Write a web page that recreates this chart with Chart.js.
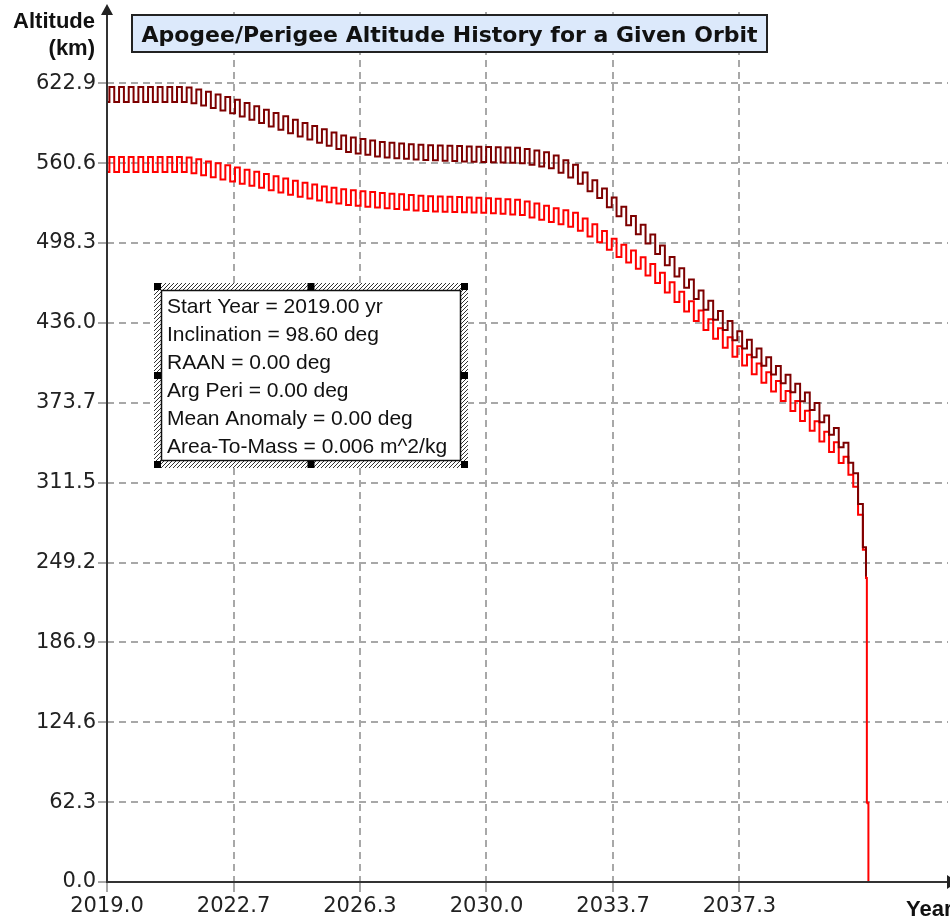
<!DOCTYPE html>
<html>
<head>
<meta charset="utf-8">
<title>Apogee/Perigee Altitude History</title>
<script src="https://cdn.jsdelivr.net/npm/chart.js@4.4.1/dist/chart.umd.min.js"></script>
<style>
  html, body { margin: 0; padding: 0; background: #fff; }
  canvas { display: block; }
</style>
</head>
<body>
<canvas id="chart" width="950" height="921"></canvas>
<script>
// turning points of the oscillation, in decimal years
const years = [
  2019.00, 2019.14, 2019.28, 2019.42, 2019.56, 2019.70, 2019.84, 2019.98, 2020.12, 2020.26,
  2020.40, 2020.54, 2020.68, 2020.82, 2020.96, 2021.10, 2021.24, 2021.38, 2021.52, 2021.66,
  2021.80, 2021.94, 2022.08, 2022.22, 2022.36, 2022.50, 2022.64, 2022.78, 2022.92, 2023.06,
  2023.20, 2023.34, 2023.48, 2023.62, 2023.76, 2023.90, 2024.04, 2024.18, 2024.32, 2024.46,
  2024.60, 2024.74, 2024.88, 2025.02, 2025.16, 2025.30, 2025.44, 2025.58, 2025.72, 2025.86,
  2026.00, 2026.14, 2026.28, 2026.42, 2026.56, 2026.70, 2026.84, 2026.98, 2027.12, 2027.26,
  2027.40, 2027.54, 2027.68, 2027.82, 2027.96, 2028.10, 2028.24, 2028.38, 2028.52, 2028.66,
  2028.80, 2028.94, 2029.08, 2029.22, 2029.36, 2029.50, 2029.64, 2029.78, 2029.92, 2030.06,
  2030.20, 2030.34, 2030.48, 2030.62, 2030.76, 2030.90, 2031.04, 2031.18, 2031.32, 2031.46,
  2031.60, 2031.74, 2031.88, 2032.02, 2032.16, 2032.30, 2032.44, 2032.58, 2032.72, 2032.86,
  2033.00, 2033.14, 2033.28, 2033.42, 2033.56, 2033.70, 2033.84, 2033.98, 2034.12, 2034.26,
  2034.40, 2034.54, 2034.68, 2034.82, 2034.96, 2035.10, 2035.24, 2035.38, 2035.52, 2035.66,
  2035.80, 2035.94, 2036.08, 2036.22, 2036.36, 2036.50, 2036.64, 2036.78, 2036.92, 2037.06,
  2037.20, 2037.34, 2037.48, 2037.62, 2037.76, 2037.90, 2038.04, 2038.18, 2038.32, 2038.46,
  2038.60, 2038.74, 2038.88, 2039.02, 2039.16, 2039.30, 2039.44, 2039.58, 2039.72, 2039.86,
  2040.00, 2040.14, 2040.28, 2040.42, 2040.56, 2040.70, 2040.84, 2040.98
];

// apogee altitude (km) at each turning point
const apogee = [
  608.3, 620.0, 608.3, 620.0, 608.3, 620.0, 608.3, 620.0, 608.3, 620.0,
  608.3, 620.0, 608.3, 620.0, 608.3, 620.0, 608.3, 619.6, 607.3, 618.1,
  605.6, 616.3, 603.6, 614.2, 601.6, 612.3, 599.5, 610.0, 597.0, 607.5,
  594.5, 604.9, 592.0, 602.3, 589.3, 599.7, 586.7, 597.2, 584.0, 594.5,
  581.5, 592.0, 579.1, 589.5, 576.5, 587.0, 574.1, 584.5, 571.7, 582.2,
  569.4, 580.6, 568.2, 579.4, 567.1, 578.2, 565.9, 577.1, 565.1, 576.6,
  564.5, 576.0, 564.0, 575.4, 563.4, 574.9, 563.0, 574.6, 562.8, 574.4,
  562.5, 574.1, 562.2, 573.9, 562.0, 573.7, 561.8, 573.4, 561.5, 573.2,
  561.3, 573.0, 561.1, 572.8, 560.9, 572.6, 560.5, 571.6, 559.3, 570.4,
  558.1, 569.1, 556.7, 566.5, 553.1, 562.9, 549.5, 559.4, 544.6, 553.3,
  538.7, 547.3, 533.4, 540.8, 526.3, 533.8, 519.3, 526.6, 512.2, 519.5,
  505.1, 512.5, 498.0, 504.9, 489.7, 496.3, 481.0, 487.4, 472.2, 478.7,
  463.4, 469.9, 454.7, 461.3, 446.3, 453.3, 438.4, 445.3, 430.5, 437.5,
  422.6, 429.6, 416.1, 422.9, 409.3, 416.1, 402.6, 409.3, 395.7, 402.5,
  389.0, 395.6, 382.0, 388.6, 375.0, 381.8, 368.2, 373.6, 358.6, 363.9,
  348.9, 354.0, 339.1, 342.6, 327.0, 318.7, 294.8, 261.0
];

// perigee altitude (km) at each turning point
const perigee = [
  553.8, 565.5, 553.8, 565.5, 553.8, 565.5, 553.8, 565.5, 553.8, 565.5,
  553.8, 565.5, 553.8, 565.5, 553.8, 565.5, 553.8, 565.1, 552.7, 563.6,
  551.1, 562.0, 549.6, 560.5, 547.9, 558.9, 546.3, 557.3, 544.6, 555.5,
  542.9, 553.9, 541.4, 552.1, 539.5, 550.4, 537.8, 548.6, 536.0, 546.9,
  534.5, 545.4, 533.0, 543.9, 531.5, 542.5, 530.2, 541.4, 529.1, 540.3,
  528.0, 539.5, 527.3, 538.8, 526.7, 538.1, 526.0, 537.4, 525.4, 536.8,
  524.8, 536.3, 524.2, 535.7, 523.7, 535.1, 523.3, 534.9, 522.9, 534.6,
  522.7, 534.4, 522.5, 534.2, 522.3, 533.9, 522.1, 533.7, 521.9, 533.3,
  521.5, 532.9, 521.1, 532.5, 520.6, 532.1, 520.1, 530.8, 518.3, 529.1,
  516.5, 527.3, 514.8, 525.5, 512.9, 523.8, 511.1, 522.0, 507.9, 517.4,
  503.5, 512.9, 498.9, 507.8, 493.0, 501.7, 487.5, 497.0, 483.1, 492.4,
  478.3, 487.3, 473.0, 482.0, 467.1, 475.2, 459.8, 467.8, 452.4, 460.4,
  445.0, 452.9, 437.6, 445.7, 430.5, 438.8, 423.7, 431.8, 416.7, 424.9,
  409.7, 417.9, 402.8, 411.1, 396.0, 404.4, 389.3, 397.6, 382.6, 390.7,
  375.2, 383.0, 367.4, 375.2, 359.6, 367.6, 351.9, 359.4, 343.6, 351.1,
  335.4, 342.9, 326.8, 331.7, 317.6, 308.3, 286.5, 259.1
];

// re-entry at the end
const apogeeTailYears = [2041.02];
const apogeeTail = [239.0];
const perigeeTailYears = [2041.02, 2041.03, 2041.07, 2041.07];
const perigeeTail = [237.0, 62.0, 61.5, 0.0];

const xTicks = [2019.0, 2022.667, 2026.333, 2030.0, 2033.667, 2037.333];
const xTickLabels = ["2019.0", "2022.7", "2026.3", "2030.0", "2033.7", "2037.3"];
const yTicks = [0, 62.29, 124.58, 186.87, 249.16, 311.45, 373.74, 436.03, 498.32, 560.61, 622.9];
const yTickLabels = ["0.0", "62.3", "124.6", "186.9", "249.2", "311.5", "373.7", "436.0", "498.3", "560.6", "622.9"];

const chartTitle = "Apogee/Perigee Altitude History for a Given Orbit";
const infoLines = [
  "Start Year = 2019.00 yr",
  "Inclination = 98.60 deg",
  "RAAN = 0.00 deg",
  "Arg Peri = 0.00 deg",
  "Mean Anomaly = 0.00 deg",
  "Area-To-Mass = 0.006 m^2/kg"
];

function toPoints(xs, ys) {
  return xs.map((x, i) => ({ x: x, y: ys[i] }));
}

const apogeePts = toPoints(years, apogee).concat(toPoints(apogeeTailYears, apogeeTail));
const perigeePts = toPoints(years, perigee).concat(toPoints(perigeeTailYears, perigeeTail));

const decor = {
  id: "decor",
  beforeDraw(chart) {
    const c = chart.ctx;
    c.save();
    c.fillStyle = "#fff";
    c.fillRect(0, 0, chart.width, chart.height);
    c.restore();
  },
  afterDatasetsDraw(chart) {
    const c = chart.ctx;
    const a = chart.chartArea;
    c.save();
    c.strokeStyle = "#333";
    c.lineWidth = 2;
    c.beginPath();
    c.moveTo(a.left, a.bottom);
    c.lineTo(a.left, 9);
    c.moveTo(a.left - 1, a.bottom);
    c.lineTo(a.right, a.bottom);
    c.stroke();
    c.fillStyle = "#222";
    // arrow heads
    c.beginPath();
    c.moveTo(a.left, 4);
    c.lineTo(a.left - 6, 15);
    c.lineTo(a.left + 6, 15);
    c.closePath();
    c.fill();
    c.beginPath();
    c.moveTo(a.right - 1, a.bottom - 7);
    c.lineTo(a.right + 9, a.bottom);
    c.lineTo(a.right - 1, a.bottom + 7);
    c.closePath();
    c.fill();
    c.restore();
  },
  afterDraw(chart) {
    const c = chart.ctx;
    c.save();

    // title box
    c.fillStyle = "#dce9fb";
    c.fillRect(132, 15, 635, 37);
    c.strokeStyle = "#222";
    c.lineWidth = 2;
    c.strokeRect(132, 15, 635, 37);
    c.font = 'bold 22px "DejaVu Sans"';
    c.fillStyle = "#111";
    c.textAlign = "center";
    c.textBaseline = "alphabetic";
    c.fillText(chartTitle, 449.5, 42);

    // axis names
    c.font = 'bold 22px "Liberation Sans"';
    c.textAlign = "right";
    c.fillText("Altitude", 95, 28);
    c.fillText("(km)", 95, 55);
    c.textAlign = "left";
    c.fillText("Year", 906, 916);

    // info box
    const bx = 154, by = 283, bw = 314, bh = 185, band = 7;
    c.fillStyle = "#fff";
    c.fillRect(bx, by, bw, bh);
    c.save();
    c.beginPath();
    c.rect(bx, by, bw, bh);
    c.rect(bx + band, by + band, bw - 2 * band, bh - 2 * band);
    c.clip("evenodd");
    c.strokeStyle = "#333";
    c.lineWidth = 1;
    c.beginPath();
    for (let x = bx - bh; x < bx + bw + 10; x += 4) {
      c.moveTo(x, by + bh);
      c.lineTo(x + bh, by);
    }
    c.stroke();
    c.restore();
    c.strokeStyle = "#111";
    c.lineWidth = 1.5;
    c.strokeRect(bx + band + 0.5, by + band + 0.5, bw - 2 * band - 1, bh - 2 * band - 1);
    c.fillStyle = "#000";
    const hx = [bx, bx + bw / 2 - 3.5, bx + bw - band];
    const hy = [by, by + bh / 2 - 3.5, by + bh - band];
    hx.forEach((x, i) => {
      hy.forEach((y, j) => {
        if (i === 1 && j === 1) return;
        c.fillRect(x, y, band, band);
      });
    });
    c.font = '21px "Liberation Sans"';
    c.fillStyle = "#111";
    c.textAlign = "left";
    infoLines.forEach((line, i) => {
      c.fillText(line, 167, 313 + i * 28);
    });

    c.restore();
  }
};

const ctx = document.getElementById("chart").getContext("2d");

const chart = new Chart(ctx, {
  type: "line",
  data: {
    datasets: [
      {
        label: "Apogee",
        data: apogeePts,
        borderColor: "#7d0000",
        borderWidth: 2,
        borderJoinStyle: "miter",
        stepped: "middle",
        pointRadius: 0,
        fill: false,
      },
      {
        label: "Perigee",
        data: perigeePts,
        borderColor: "#ff0000",
        borderWidth: 2,
        borderJoinStyle: "miter",
        stepped: "middle",
        pointRadius: 0,
        fill: false,
      },
    ],
  },
  options: {
    responsive: false,
    animation: false,
    devicePixelRatio: 1,
    layout: { padding: { top: 12, right: 2, left: 0, bottom: 0 } },
    plugins: {
      legend: { display: false },
      tooltip: { enabled: false },
      title: { display: false },
    },
    scales: {
      x: {
        type: "linear",
        min: 2019,
        max: 2043.377,
        afterBuildTicks: (scale) => {
          scale.ticks = xTicks.map((v) => ({ value: v }));
        },
        afterFit: (scale) => {
          scale.height = 39;
        },
        ticks: {
          autoSkip: false,
          maxRotation: 0,
          padding: 2,
          color: "#222",
          font: { family: "DejaVu Sans", size: 21 },
          callback: (v, i) => xTickLabels[i],
        },
        grid: {
          color: "#a8a8a8",
          lineWidth: 2,
          tickLength: 10,
          tickColor: "#a8a8a8",
        },
        border: { display: false, dash: [7, 5] },
      },
      y: {
        type: "linear",
        min: 0,
        max: 678.5,
        afterBuildTicks: (scale) => {
          scale.ticks = yTicks.map((v) => ({ value: v }));
        },
        afterFit: (scale) => {
          scale.width = 107;
          scale.paddingTop = 0;
          scale.paddingBottom = 0;
        },
        ticks: {
          autoSkip: false,
          padding: 2,
          color: "#222",
          font: { family: "DejaVu Sans", size: 21 },
          callback: (v, i) => yTickLabels[i],
        },
        grid: {
          color: "#a8a8a8",
          lineWidth: 2,
          tickLength: 9,
          tickColor: "#a8a8a8",
        },
        border: { display: false, dash: [7, 5] },
      },
    },
  },
  plugins: [decor],
});
</script>
</body>
</html>
